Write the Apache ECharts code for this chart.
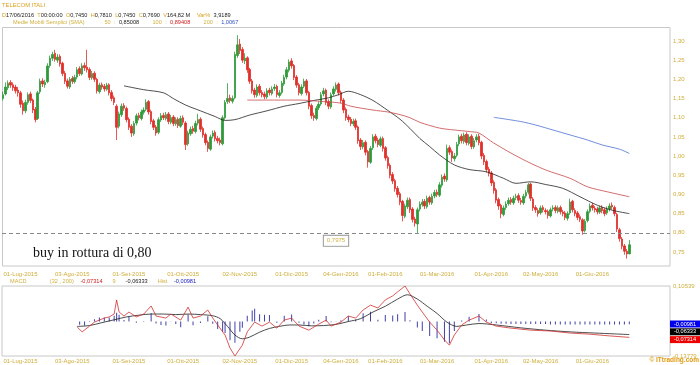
<!DOCTYPE html>
<html><head><meta charset="utf-8">
<script src="https://cdn.jsdelivr.net/npm/echarts@6/dist/echarts.min.js"></script>
<style>html,body{margin:0;padding:0;background:#fff}#c{width:700px;height:365px}</style>
</head><body><div id="c"></div><script>
// ---- price data (thousandths of EUR) ----
const opens=[1150,1162,1178,1192,1186,1180,1172,1165,1138,1118,1140,1162,1146,1122,1098,1168,1196,1186,1194,1236,
1255,1268,1250,1260,1242,1216,1196,1180,1202,1194,1206,1228,1214,1236,1232,1226,1204,1216,1200,1168,
1186,1182,1174,1186,1166,1152,1130,1078,1108,1132,1124,1096,1078,1058,1086,1106,1098,1114,1122,1142,
1116,1092,1076,1062,1094,1106,1098,1110,1088,1102,1084,1096,1078,1100,1086,1032,1058,1072,1064,1086,
1096,1072,1056,1036,1018,1052,1062,1046,1042,1032,1100,1142,1152,1143,1152,1262,1292,1278,1248,1256,
1226,1196,1172,1158,1182,1166,1162,1154,1172,1163,1176,1182,1158,1166,1188,1206,1224,1248,1236,1206,
1186,1163,1182,1196,1166,1132,1106,1098,1126,1136,1162,1172,1142,1128,1162,1174,1188,1166,1146,1122,
1102,1096,1084,1092,1076,1042,1024,1036,1012,984,1022,1052,1042,1028,1046,1022,996,976,952,936,
916,902,882,843,868,887,862,836,823,862,874,882,868,892,878,896,906,898,924,948,
938,1022,1012,993,1002,1032,1052,1038,1057,1033,1052,1024,1042,1052,1036,1002,986,966,956,932,
912,887,872,848,866,876,887,878,892,897,884,878,896,906,927,888,866,858,852,866,
858,856,844,862,866,856,866,854,852,838,852,882,858,852,842,834,806,832,856,872,
864,862,854,866,860,852,862,872,866,848,808,784,766,752,745];
const closes=[1160,1180,1190,1185,1178,1170,1165,1135,1118,1140,1160,1145,1120,1095,1165,1195,1188,1192,1235,1255,
1265,1252,1258,1240,1215,1195,1182,1200,1195,1205,1225,1215,1235,1230,1225,1205,1215,1200,1170,1185,
1180,1175,1185,1165,1150,1140,1075,1110,1130,1125,1095,1075,1060,1085,1105,1100,1115,1120,1140,1115,
1090,1075,1060,1095,1105,1100,1108,1090,1100,1085,1095,1080,1098,1088,1030,1060,1070,1065,1085,1095,
1070,1055,1035,1020,1050,1060,1045,1040,1035,1100,1140,1150,1145,1150,1265,1290,1275,1250,1255,1225,
1195,1170,1160,1180,1165,1160,1155,1170,1165,1175,1180,1160,1165,1190,1205,1225,1245,1235,1205,1185,
1165,1180,1195,1165,1130,1105,1100,1125,1135,1160,1170,1140,1130,1160,1175,1185,1165,1145,1120,1100,
1095,1085,1090,1075,1040,1025,1035,1010,985,1020,1050,1040,1030,1045,1020,995,975,950,935,915,
900,880,845,870,885,860,835,825,860,875,880,870,890,880,895,905,900,925,945,940,
1020,1010,995,1000,1030,1050,1040,1055,1035,1050,1025,1040,1050,1035,1000,985,965,955,930,910,
885,870,850,865,875,885,880,890,895,885,880,895,905,925,890,865,860,850,865,860,
855,845,860,865,858,865,855,850,840,850,880,860,850,840,835,805,830,855,870,865,
860,855,865,858,850,862,870,868,850,810,785,765,752,745,769];
const highs=[1168,1192,1197,1198,1192,1186,1180,1170,1145,1147,1166,1168,1150,1128,1170,1202,1203,1199,1242,1262,
1272,1277,1266,1265,1246,1222,1202,1206,1209,1212,1232,1234,1242,1244,1277,1231,1222,1221,1204,1191,
1192,1188,1191,1190,1172,1158,1135,1116,1137,1138,1129,1101,1083,1091,1111,1113,1121,1127,1148,1146,
1121,1097,1081,1101,1112,1113,1115,1115,1107,1107,1101,1101,1105,1106,1091,1066,1077,1079,1092,1110,
1101,1077,1061,1041,1056,1067,1067,1053,1048,1106,1146,1190,1160,1158,1272,1315,1305,1284,1268,1260,
1230,1201,1178,1187,1188,1172,1168,1177,1178,1182,1188,1186,1172,1196,1212,1232,1252,1255,1240,1211,
1191,1187,1202,1201,1170,1137,1113,1131,1142,1167,1178,1176,1148,1166,1182,1192,1192,1171,1151,1127,
1108,1102,1097,1098,1080,1047,1042,1041,1016,1026,1057,1058,1048,1051,1051,1026,1001,981,958,941,
922,907,886,876,892,892,867,842,866,882,888,888,897,897,902,912,913,932,952,955,
1030,1028,1017,1008,1037,1056,1058,1061,1062,1057,1057,1047,1057,1058,1040,1008,991,972,961,937,
917,892,876,871,882,892,893,897,902,903,891,902,912,930,931,893,872,864,871,872,
864,861,866,872,872,871,871,860,857,856,889,886,864,857,848,838,836,861,877,878,
870,868,871,872,866,869,877,879,871,852,813,789,771,758,781];
const lows=[1145,1158,1172,1178,1170,1163,1155,1126,1108,1112,1134,1138,1112,1088,1094,1162,1180,1178,1190,1230,
1248,1246,1243,1233,1208,1188,1176,1175,1188,1189,1200,1209,1210,1222,1218,1198,1199,1193,1163,1163,
1173,1168,1170,1158,1143,1133,1042,1072,1102,1118,1088,1068,1050,1053,1080,1093,1093,1108,1117,1108,
1083,1068,1053,1057,1089,1094,1093,1083,1083,1078,1079,1073,1074,1081,1016,1027,1053,1058,1059,1080,
1063,1048,1028,1011,1014,1046,1038,1033,1028,1028,1095,1136,1138,1137,1148,1256,1266,1243,1240,1217,
1188,1163,1152,1153,1158,1153,1148,1149,1158,1158,1170,1153,1152,1161,1183,1200,1218,1228,1198,1178,
1158,1158,1177,1158,1122,1097,1092,1093,1120,1131,1156,1133,1122,1123,1157,1168,1158,1138,1112,1092,
1088,1078,1078,1068,1032,1016,1018,1002,970,980,1016,1033,1023,1023,1012,988,967,942,927,907,
892,872,830,838,862,852,827,816,799,856,868,862,863,873,873,890,893,893,918,933,
933,1003,985,986,997,1026,1033,1032,1028,1028,1018,1019,1036,1028,992,977,957,947,922,902,
877,860,838,843,860,871,873,873,885,878,873,873,890,900,883,857,852,842,847,853,
848,837,840,856,851,851,848,843,833,832,847,853,843,833,828,795,801,827,851,858,
853,848,849,851,843,847,856,861,843,802,777,757,743,733,745];
const N=closes.length;
// ---- moving averages: [candle index, value] ----
const ma50=[[49,1.183],[57,1.173],[65,1.165],[69,1.150],[74,1.133],[80,1.118],[86,1.103],[90,1.093],[94,1.095],[100,1.107],[107,1.118],[114,1.130],[120,1.137],[126,1.145],[132,1.152],[136,1.160],[140,1.169],[145,1.160],[150,1.145],[156,1.119],[161,1.096],[165,1.072],[169,1.046],[173,1.025],[177,1.003],[183,0.977],[189,0.965],[196,0.959],[203,0.942],[208,0.929],[214,0.933],[220,0.926],[227,0.916],[234,0.894],[241,0.872],[247,0.859],[254,0.850]];
const ma100=[[99,1.146],[110,1.146],[120,1.146],[130,1.142],[137,1.138],[141,1.130],[150,1.120],[156,1.115],[161,1.108],[165,1.100],[169,1.088],[177,1.073],[183,1.068],[189,1.064],[193,1.060],[199,1.034],[210,0.994],[220,0.964],[230,0.942],[237,0.920],[245,0.907],[254,0.894]];
const ma200=[[199,1.101],[210,1.090],[216,1.081],[223,1.068],[230,1.055],[237,1.042],[243,1.029],[250,1.018],[254,1.007]];
// ---- MACD (32,200,9): [candle index, value] ----
const macdLine=[[30,-0.037],[32,-0.054],[35,-0.034],[37,-0.020],[41,-0.006],[43,-0.002],[45,0.008],[46,0.057],[47,0.015],[49,0.001],[51,0.015],[54,-0.002],[57,0.008],[60,0.036],[62,0.001],[66,-0.006],[68,0.008],[72,-0.013],[75,0.032],[77,-0.006],[80,0.001],[83,0.022],[85,-0.006],[87,-0.030],[90,-0.065],[92,-0.110],[94,-0.13779],[97,-0.100],[99,-0.054],[102,-0.020],[105,-0.034],[108,-0.020],[111,-0.041],[114,-0.013],[117,-0.006],[120,-0.034],[124,-0.048],[128,-0.027],[131,-0.013],[133,-0.034],[137,-0.020],[140,0.001],[143,-0.006],[146,0.022],[149,0.039],[152,0.029],[155,0.057],[158,0.071],[160,0.085],[163,0.10539],[165,0.078],[168,0.039],[170,0.015],[173,-0.020],[176,-0.048],[179,-0.082],[181,-0.100],[183,-0.065],[186,-0.030],[189,-0.013],[193,0.001],[196,-0.020],[200,-0.034],[206,-0.041],[214,-0.048],[222,-0.051],[230,-0.058],[238,-0.062],[246,-0.068],[254,-0.07314]];
const signalLine=[[30,-0.035],[35,-0.032],[40,-0.022],[45,-0.012],[50,-0.002],[55,0.004],[60,0.008],[65,0.008],[70,0.006],[75,0.008],[80,0.006],[85,0.002],[88,-0.008],[91,-0.035],[94,-0.065],[97,-0.078],[100,-0.072],[104,-0.055],[108,-0.042],[112,-0.035],[116,-0.030],[120,-0.030],[125,-0.033],[130,-0.032],[135,-0.028],[140,-0.018],[145,-0.008],[150,0.015],[155,0.035],[160,0.060],[164,0.075],[168,0.060],[172,0.035],[176,0.010],[180,-0.020],[184,-0.035],[188,-0.030],[193,-0.025],[200,-0.030],[210,-0.040],[220,-0.048],[230,-0.054],[240,-0.058],[248,-0.061],[254,-0.06333]];
const histBars=[[31,-0.011],[33,-0.014],[35,-0.002],[37,0.008],[39,0.014],[41,0.014],[43,0.014],[45,0.020],[46,0.030],[47,0.023],[49,0.005],[51,0.017],[54,-0.004],[57,0.002],[60,0.028],[62,-0.007],[64,-0.012],[66,-0.014],[68,0.001],[70,-0.009],[72,-0.020],[75,0.024],[77,-0.013],[80,-0.005],[83,0.018],[85,-0.008],[87,-0.026],[89,-0.035],[90,-0.040],[92,-0.065],[94,-0.073],[96,-0.035],[97,-0.022],[99,0.020],[101,0.038],[102,0.044],[104,0.025],[106,0.023],[108,0.022],[111,-0.004],[114,0.020],[117,0.024],[120,-0.004],[122,-0.010],[124,-0.016],[126,-0.007],[128,0.006],[131,0.019],[133,-0.003],[135,0.001],[137,0.004],[140,0.019],[143,0.006],[146,0.028],[149,0.034],[152,0.006],[155,0.022],[158,0.021],[160,0.025],[163,0.033],[165,0.004],[168,-0.021],[170,-0.033],[173,-0.050],[176,-0.058],[179,-0.070],[181,-0.075],[183,-0.033],[186,0.003],[189,0.016],[193,0.026],[196,0.007],[198,-0.005],[200,-0.006],[202,-0.008],[204,-0.008],[206,-0.009],[208,-0.009],[210,-0.009],[212,-0.009],[214,-0.009],[216,-0.009],[218,-0.009],[220,-0.009],[222,-0.010],[224,-0.010],[226,-0.010],[228,-0.010],[230,-0.010],[232,-0.010],[234,-0.010],[236,-0.010],[238,-0.010],[240,-0.010],[242,-0.010],[244,-0.010],[246,-0.010],[248,-0.010],[250,-0.010],[252,-0.010],[254,-0.00981]];
const macdMax=0.10539, macdMin=-0.13779;
// ---- axis ticks ----
const tickIdx=[7,28,51,73,96,117,137,155,176,198,218,239];
const tickLabels=['01-Lug-2015','03-Ago-2015','01-Set-2015','01-Ott-2015','02-Nov-2015','01-Dic-2015','04-Gen-2016','01-Feb-2016','01-Mar-2016','01-Apr-2016','02-May-2016','01-Giu-2016'];
const levelLine=0.7975, lastClose=0.769;

const PAD=16;
const cats=[];for(let i=0;i<N+PAD;i++)cats.push(String(i));
const candles=closes.map((c,i)=>[opens[i]/1000,c/1000,lows[i]/1000,highs[i]/1000]);
const GOLD='#cfae3a', FONT='Liberation Sans, Arial, sans-serif';
const comma=v=>String(v).replace('.',',');
const xLabel={interval:(i)=>tickIdx.includes(i),formatter:(v,i)=>{const k=tickIdx.indexOf(i);return k>=0?tickLabels[k]:'';},color:GOLD,fontSize:6,fontFamily:FONT};

const chart=echarts.init(document.getElementById('c'),null,{renderer:'canvas'});
chart.setOption({
 animation:false,
 grid:[{left:2,width:668,top:21.8,height:249.4},{left:2,width:668,top:286,height:70,show:true,borderColor:'#c8c8c8',borderWidth:1}],
 xAxis:[
  {type:'category',data:cats,gridIndex:0,boundaryGap:true,axisLine:{show:false},axisTick:{show:false},axisLabel:Object.assign({margin:0},xLabel)},
  {type:'category',data:cats,gridIndex:1,boundaryGap:true,axisLine:{show:false},axisTick:{show:false},axisLabel:Object.assign({margin:2},xLabel)}
 ],
 yAxis:[
  {type:'value',gridIndex:0,position:'right',min:0.70,max:1.35,interval:0.05,splitLine:{show:false},axisLine:{show:false},axisTick:{show:false},
   axisLabel:{margin:3,color:GOLD,fontSize:6,fontFamily:FONT,formatter:v=>(v<0.749||v>1.301)?'':comma(v.toFixed(2))}},
  {type:'value',gridIndex:1,position:'right',min:macdMin,max:macdMax,splitLine:{show:false},axisLine:{show:false},axisTick:{show:false},
   axisLabel:{margin:3,color:GOLD,fontSize:6,fontFamily:FONT,showMinLabel:true,showMaxLabel:true,formatter:v=>(v===macdMax||v===macdMin)?comma(v.toFixed(5)):''}},
  {type:'value',gridIndex:1,show:false,min:-0.119,max:0.1224}
 ],
 series:[
  {type:'candlestick',xAxisIndex:0,yAxisIndex:0,data:candles,barWidth:2,
   itemStyle:{color:'#2e9a3a',color0:'#e0302a',borderColor:'#2e9a3a',borderColor0:'#e0302a',borderWidth:0.8},
   markLine:{silent:true,symbol:'none',data:[
     {yAxis:levelLine,lineStyle:{color:'#888',type:[4,3],width:1},
      label:{show:true,position:'insideMiddleBottom',formatter:comma(levelLine),color:GOLD,fontSize:6,fontFamily:FONT,backgroundColor:'#fff',borderColor:'#999',borderWidth:1,padding:[2,3],distance:3}},
     {yAxis:lastClose,lineStyle:{opacity:0},
      label:{show:true,position:'end',formatter:'0,7690',color:'#222',fontSize:6,fontFamily:FONT,backgroundColor:'#d6d6d6',padding:[2,4,2,3],distance:2}}
   ]}},
  {type:'line',xAxisIndex:0,yAxisIndex:0,data:ma50,showSymbol:false,smooth:0.3,lineStyle:{color:'#222',width:0.8}},
  {type:'line',xAxisIndex:0,yAxisIndex:0,data:ma100,showSymbol:false,smooth:0.3,lineStyle:{color:'#c84848',width:0.8}},
  {type:'line',xAxisIndex:0,yAxisIndex:0,data:ma200,showSymbol:false,smooth:0.3,lineStyle:{color:'#4a70d0',width:0.8}},
  {type:'bar',xAxisIndex:1,yAxisIndex:2,data:histBars,barWidth:1,itemStyle:{color:'#4040a8'}},
  {type:'line',xAxisIndex:1,yAxisIndex:1,data:signalLine,showSymbol:false,smooth:0.3,lineStyle:{color:'#202020',width:0.8}},
  {type:'line',xAxisIndex:1,yAxisIndex:1,data:macdLine,showSymbol:false,lineStyle:{color:'#d03030',width:0.8}}
 ],
 graphic:[
  {type:'rect',shape:{x:2.5,y:27.5,width:667.5,height:238.5},style:{fill:'none',stroke:'#c8c8c8',lineWidth:1},silent:true},
  {type:'text',left:2,top:2,style:{text:'TELECOM ITALI',fill:'#d8a020',font:'5.8px '+FONT}},
  {type:'text',left:2,top:9.5,style:{text:'{k|D}{v|17/06/2016} {k|T}{v|00:00:00} {k|O}{v|0,7450} {k|H}{v|0,7810} {k|L}{v|0,7450} {k|C}{v|0,7690} {k|V}{v|164,82 M}  {k|Var%} {v|3,9189}',
    rich:{k:{fill:'#d8a020',font:'5.6px '+FONT},v:{fill:'#222',font:'5.6px '+FONT}}}},
  {type:'text',left:13,top:16.5,style:{text:'{k|Medie Mobili Semplici (SMA)}      {k|50} {k|:} {b|0,85008}    {k|100} {k|:} {r|0,89408}    {k|200} {k|:} {u|1,0067}',
    rich:{k:{fill:'#d0b040',font:'5.6px '+FONT},b:{fill:'#222',font:'5.6px '+FONT},r:{fill:'#d02020',font:'5.6px '+FONT},u:{fill:'#3050c0',font:'5.6px '+FONT}}}},
  {type:'text',left:33,top:246,style:{text:'buy in rottura di 0,80',fill:'#111',font:'14px "Liberation Serif", "Times New Roman", serif'}},
  {type:'text',left:10,top:275,style:{text:'{k|MACD}       {k|(32 , 200)}  {r|-0,07314}   {k|9}   {b|-0,06333}   {k|Hist}  {u|-0,00981}',
    rich:{k:{fill:'#d0b040',font:'5.6px '+FONT},b:{fill:'#222',font:'5.6px '+FONT},r:{fill:'#d02020',font:'5.6px '+FONT},u:{fill:'#2020c0',font:'5.6px '+FONT}}}},
  {type:'group',left:670,top:320.5,children:[
    {type:'rect',shape:{x:0,y:0,width:30,height:7},style:{fill:'#0000ee'}},
    {type:'text',x:4,y:0.5,style:{text:'-0,00981',fill:'#fff',font:'5.6px '+FONT}},
    {type:'rect',shape:{x:0,y:7.8,width:30,height:7},style:{fill:'#000'}},
    {type:'text',x:4,y:8.3,style:{text:'-0,06333',fill:'#fff',font:'5.6px '+FONT}},
    {type:'rect',shape:{x:0,y:15.6,width:30,height:7},style:{fill:'#ee0000'}},
    {type:'text',x:4,y:16.1,style:{text:'-0,07314',fill:'#fff',font:'5.6px '+FONT}}
  ]},
  {type:'text',right:1,top:357,style:{text:'© ITtrading.com',fill:'#e09a10',font:'bold 6.5px '+FONT}}
 ]
});
</script></body></html>
